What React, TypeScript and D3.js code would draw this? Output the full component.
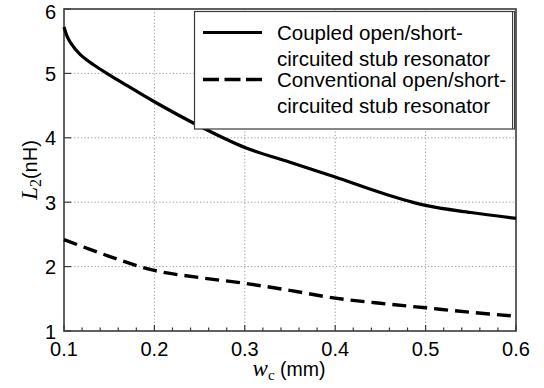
import React from "react";
import * as d3 from "d3";

const wcCoupled = [0.1, 0.103, 0.107, 0.118, 0.133, 0.151, 0.17, 0.2, 0.25, 0.3, 0.35, 0.4, 0.45, 0.5, 0.55, 0.6];
const coupled = [5.72, 5.59, 5.48, 5.29, 5.13, 4.97, 4.81, 4.56, 4.18, 3.85, 3.62, 3.39, 3.15, 2.95, 2.84, 2.75];
const wcConv = [0.1, 0.15, 0.2, 0.25, 0.3, 0.35, 0.4, 0.45, 0.5, 0.55, 0.6];
const conventional = [2.42, 2.16, 1.94, 1.83, 1.74, 1.63, 1.51, 1.43, 1.36, 1.29, 1.23];
const xTicks = [0.1, 0.2, 0.3, 0.4, 0.5, 0.6];
const yTicks = [1, 2, 3, 4, 5, 6];
const legendLines = [
  ["Coupled open/short-", "circuited stub resonator"],
  ["Conventional open/short-", "circuited stub resonator"],
];

const W = 544;
const H = 388;
const L = 64, R = 516, T = 9, B = 331;
const SANS = "'Liberation Sans', Arial, Helvetica, sans-serif";
const SERIF = "'Liberation Serif', 'Times New Roman', serif";
const AX = "#3a3a3a";

export default function App() {
  const x = d3.scaleLinear().domain([0.1, 0.6]).range([L, R]);
  const y = d3.scaleLinear().domain([1, 6]).range([B, T]);
  const line = d3
    .line<[number, number]>()
    .x((d) => x(d[0]))
    .y((d) => y(d[1]))
    .curve(d3.curveCatmullRom.alpha(0.5));
  const solidPath = line(wcCoupled.map((v, i) => [v, coupled[i]] as [number, number])) || "";
  const dashPath = line(wcConv.map((v, i) => [v, conventional[i]] as [number, number])) || "";
  const minor = d3.range(0, 26).map((i) => 0.1 + i * 0.02).filter((v) => v < 0.6 + 1e-9);

  return (
    <svg
      width={W}
      height={H}
      style={{ position: "absolute", left: 0, top: 0, background: "#fff" }}
    >
      <rect x={0} y={0} width={W} height={H} fill="#fff" />
      {/* grid */}
      {xTicks.slice(1, -1).map((t) => (
        <line key={"gx" + t} x1={x(t)} x2={x(t)} y1={T} y2={B} stroke="#999" strokeWidth={1} strokeDasharray="1.2 2.2" />
      ))}
      {yTicks.slice(1, -1).map((t) => (
        <line key={"gy" + t} x1={L} x2={R} y1={y(t)} y2={y(t)} stroke="#999" strokeWidth={1} strokeDasharray="1.2 2.2" />
      ))}
      {/* minor x ticks */}
      {minor.map((t, i) => (
        <line key={"mx" + i} x1={x(t)} x2={x(t)} y1={B} y2={B - (i % 5 === 0 ? 6 : 3.5)} stroke={AX} strokeWidth={1.2} />
      ))}
      {/* y ticks */}
      {yTicks.map((t) => (
        <line key={"ty" + t} x1={L} x2={L + 7} y1={y(t)} y2={y(t)} stroke={AX} strokeWidth={1.2} />
      ))}
      {/* frame */}
      <rect x={L} y={T} width={R - L} height={B - T} fill="none" stroke={AX} strokeWidth={1.6} />
      {/* curves */}
      <path d={solidPath} fill="none" stroke="#000" strokeWidth={3.2} />
      <path d={dashPath} fill="none" stroke="#000" strokeWidth={3.4} strokeDasharray="14 7" />
      {/* tick labels */}
      {xTicks.map((t) => (
        <text key={"lx" + t} x={x(t)} y={356} textAnchor="middle" fontFamily={SANS} fontSize={20} fill="#000">
          {d3.format(".1f")(t)}
        </text>
      ))}
      {yTicks.map((t) => (
        <text key={"ly" + t} x={56} y={Math.max(y(t) + 7.5, 18.5)} textAnchor="end" fontFamily={SANS} fontSize={20} fill="#000">
          {t}
        </text>
      ))}
      {/* axis titles */}
      <text x={289} y={376} textAnchor="middle" fill="#000">
        <tspan fontFamily={SERIF} fontStyle="italic" fontSize={23}>w</tspan>
        <tspan fontFamily={SERIF} fontSize={15} dy={4}>c</tspan>
        <tspan fontFamily={SANS} fontSize={19.5} dy={-4}> (mm)</tspan>
      </text>
      <text transform={`translate(37,${(T + B) / 2}) rotate(-90)`} textAnchor="middle" fill="#000">
        <tspan fontFamily={SERIF} fontStyle="italic" fontSize={23}>L</tspan>
        <tspan fontFamily={SERIF} fontSize={16} dy={4}>2</tspan>
        <tspan fontFamily={SANS} fontSize={20} dy={-4}>(nH)</tspan>
      </text>
      {/* legend */}
      <rect x={194.5} y={11.5} width={320} height={117.5} fill="#fff" stroke={AX} strokeWidth={1.2} />
      <line x1={512.5} x2={512.5} y1={11.5} y2={129} stroke={AX} strokeWidth={1} />
      <line x1={203} x2={262} y1={32.5} y2={32.5} stroke="#000" strokeWidth={3.2} />
      <line x1={203} x2={262} y1={79.5} y2={79.5} stroke="#000" strokeWidth={3.4} strokeDasharray="16 5.5" />
      {legendLines.map((lines, i) => (
        <text key={"lg" + i} fontFamily={SANS} fontSize={20.5} fill="#000">
          {lines.map((s, j) => (
            <tspan key={j} x={277} y={(i === 0 ? 40 : 87.3) + j * 26}>
              {s}
            </tspan>
          ))}
        </text>
      ))}
    </svg>
  );
}
